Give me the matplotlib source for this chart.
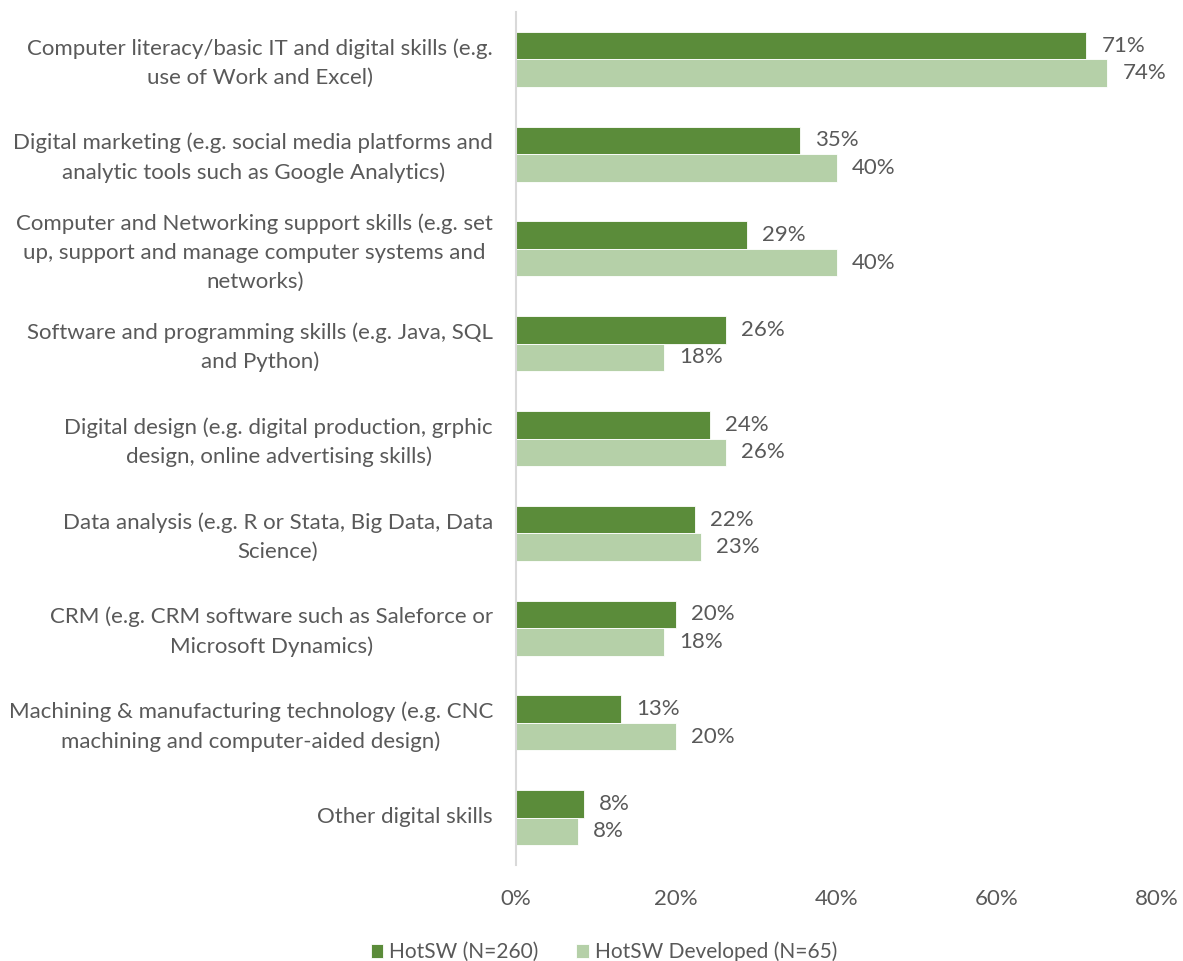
import matplotlib
matplotlib.use("Agg")
import matplotlib.pyplot as plt
import matplotlib.transforms as mtransforms
import numpy as np

plt.rcParams['font.family'] = ['Lato', 'DejaVu Sans']

categories = [
    "Computer literacy/basic IT and digital skills (e.g.\nuse of Work and Excel)",
    "Digital marketing (e.g. social media platforms and\nanalytic tools such as Google Analytics)",
    "Computer and Networking support skills (e.g. set\nup, support and manage computer systems and\nnetworks)",
    "Software and programming skills (e.g. Java, SQL\nand Python)",
    "Digital design (e.g. digital production, grphic\ndesign, online advertising skills)",
    "Data analysis (e.g. R or Stata, Big Data, Data\nScience)",
    "CRM (e.g. CRM software such as Saleforce or\nMicrosoft Dynamics)",
    "Machining & manufacturing technology (e.g. CNC\nmachining and computer-aided design)",
    "Other digital skills",
]
hotsw = [71.2, 35.4, 28.8, 26.2, 24.2, 22.3, 20.0, 13.1, 8.5]
hotsw_developed = [73.8, 40.0, 40.0, 18.5, 26.2, 23.1, 18.5, 20.0, 7.7]
series_names = ["HotSW (N=260)", "HotSW Developed (N=65)"]
xticks = [0, 20, 40, 60, 80]

dark = "#5B8C3A"
light = "#B5D0A8"
text_col = "#595959"
fs = 16

fig = plt.figure(figsize=(11.83, 9.61), dpi=100)
ax = fig.add_axes([516 / 1183, 1 - 865 / 961, (1157 - 516) / 1183, (865 - 12) / 961])

n = len(categories)
y = np.arange(n)
h = 0.29
b1 = ax.barh(y - h / 2, hotsw, height=h, color=dark, edgecolor="white", linewidth=0.6, label=series_names[0])
b2 = ax.barh(y + h / 2, hotsw_developed, height=h, color=light, edgecolor="white", linewidth=0.6, label=series_names[1])

for bars, vals in ((b1, hotsw), (b2, hotsw_developed)):
    for rect, v in zip(bars, vals):
        ax.annotate(f"{v:.0f}%", (v, rect.get_y() + rect.get_height() / 2),
                    xytext=(15, 0), textcoords="offset pixels",
                    va="center", ha="left", fontsize=fs, color=text_col)

ax.set_ylim(n - 0.5, -0.5)
ax.set_xlim(0, 80)
ax.set_xticks(xticks)
ax.set_xticklabels([f"{t}%" for t in xticks], fontsize=fs, color=text_col)
ax.set_yticks(y)
ax.set_yticklabels(categories, fontsize=fs, color=text_col, ha="right",
                   multialignment="center", linespacing=1.55)
ax.tick_params(axis="y", length=0, pad=16.5)
ax.tick_params(axis="x", length=0, pad=17)

# nudge category labels up slightly so multi-line blocks sit centred on their bars
nudge = mtransforms.ScaledTranslation(0, 3 / 100, fig.dpi_scale_trans)
for lbl in ax.get_yticklabels():
    lbl.set_transform(lbl.get_transform() + nudge)

for side in ("top", "right", "bottom"):
    ax.spines[side].set_visible(False)
ax.spines["left"].set_color("#D9D9D9")
ax.spines["left"].set_linewidth(1.5)

fig.legend(handles=[b1, b2], labels=series_names, loc="center",
           bbox_to_anchor=(604 / 1183, 1 - 952 / 961), ncol=2, frameon=False,
           fontsize=15, handlelength=0.6, handleheight=0.6, handletextpad=0.3,
           columnspacing=1.8, labelcolor=text_col)

fig.savefig("out.png", dpi=100)
